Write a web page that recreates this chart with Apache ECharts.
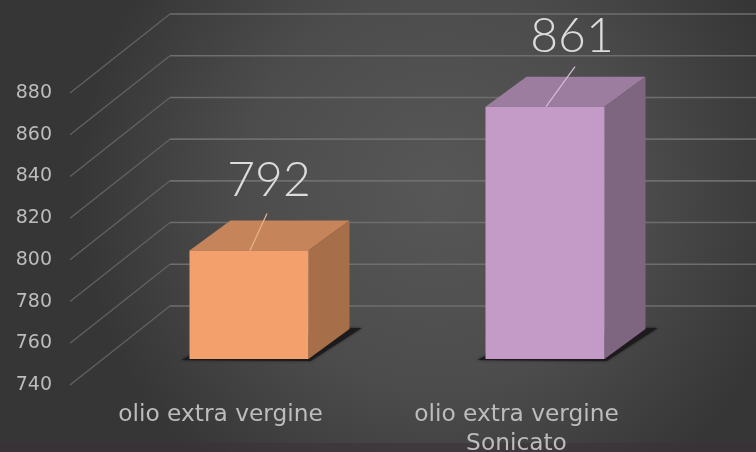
<!DOCTYPE html>
<html>
<head>
<meta charset="utf-8">
<style>html,body{margin:0;padding:0;background:#3a3a3a}#chart{width:756px;height:452px}</style>
<script src="https://cdn.jsdelivr.net/npm/echarts@6/dist/echarts.min.js"></script>
</head>
<body>
<div id="chart"></div>
<script>
// Ticks, categories and measured values
const categories = ['olio extra vergine', 'olio extra vergine\nSonicato'];
const values = [792, 861];
const yTicks = [740, 760, 780, 800, 820, 840, 860, 880];
const frontColors = ['#f4a06c', '#c39bc6'];
const topColors = ['#c6845a', '#9c7d9f'];
const sideColors = ['#a66f49', '#7f6680'];
const leaderColors = ['#e8b48c', '#d6bcd8'];

const yMin = 740, yMax = 880;

// Projection of the oblique 3D box
const wallDx = 100, wallDy = -79;    // front edge of the floor to the back wall
const barDx = 31, barDy = -26;       // front edge of the floor to the bar's front face
const depthDx = 41, depthDy = -30;   // thickness of a bar
const barHalf = 59.5;

// Leader line tip and value text, relative to the middle of each bar's top edge
const leaderTipDx = [18, 30];
const leaderTipDy = [-37, -40];
const labelDx = [20, 27];
const labelDy = -70;

function poly(points, fill, extra) {
  return Object.assign({ type: 'polygon', shape: { points }, style: { fill } }, extra || {});
}

function renderGridline(params, api) {
  const y = api.coord([categories[0], api.value(0)])[1];
  const x0 = params.coordSys.x;
  return {
    type: 'group',
    children: [
      { type: 'line', shape: { x1: x0, y1: y, x2: x0 + wallDx, y2: y + wallDy },
        style: { stroke: '#626262', lineWidth: 1.3 } },
      { type: 'line', shape: { x1: x0 + wallDx, y1: y + wallDy, x2: 780, y2: y + wallDy },
        style: { stroke: '#6e6e6e', lineWidth: 1.6 } }
    ]
  };
}

function renderBar(params, api) {
  const i = params.dataIndex;
  const value = api.value(1);
  const c = api.coord([categories[i], value]);
  const base = api.coord([categories[i], yMin]);
  const l = c[0] + barDx - barHalf, r = c[0] + barDx + barHalf;
  const t = c[1] + barDy, b = base[1] + barDy;
  const dx = depthDx, dy = depthDy;
  const midX = (l + r) / 2;
  return {
    type: 'group',
    children: [
      poly([[l - 8, b + 1], [r + 2, b + 2], [r + dx + 12, b + dy - 1], [r + dx, b + dy - 1], [l, b - 3]], '#1c1a1c',
        { style: { fill: '#1c1a1c', shadowBlur: 3, shadowColor: 'rgba(0,0,0,0.6)' } }),
      poly([[l, t], [r, t], [r + dx, t + dy], [l + dx, t + dy]], topColors[i]),
      poly([[r, t], [r + dx, t + dy], [r + dx, b + dy], [r, b]], sideColors[i]),
      poly([[l, t], [r, t], [r, b], [l, b]], frontColors[i]),
      { type: 'line', shape: { x1: midX + 1, y1: t, x2: midX + leaderTipDx[i], y2: t + leaderTipDy[i] },
        style: { stroke: leaderColors[i], lineWidth: 1.2 } },
      { type: 'text', x: midX + labelDx[i], y: t + labelDy,
        style: { text: String(value), fill: '#dcdcdc', font: '300 48px Lato, "Open Sans", sans-serif',
          align: 'center', verticalAlign: 'middle' } }
    ]
  };
}

const chart = echarts.init(document.getElementById('chart'), null, { renderer: 'canvas' });
chart.setOption({
  animation: false,
  backgroundColor: {
    type: 'radial', x: 0.58, y: 0.42, r: 0.8,
    colorStops: [
      { offset: 0, color: '#575757' },
      { offset: 0.55, color: '#4c4c4c' },
      { offset: 1, color: '#363636' }
    ]
  },
  grid: { left: 70, top: 93, width: 592, height: 292, outerBoundsMode: 'none' },
  xAxis: {
    type: 'category',
    data: categories,
    axisLine: { show: false },
    axisTick: { show: false },
    splitLine: { show: false },
    axisLabel: {
      color: '#bcbcbc', fontFamily: '"DejaVu Sans", sans-serif', fontSize: 23.3,
      margin: 15, lineHeight: 29, padding: [0, 0, 0, 5], interval: 0
    }
  },
  yAxis: {
    type: 'value',
    min: yMin,
    max: yMax,
    interval: 20,
    axisLine: { show: false },
    axisTick: { show: false },
    splitLine: { show: false },
    axisLabel: {
      color: '#bcbcbc', fontFamily: '"DejaVu Sans", sans-serif', fontSize: 19, margin: 18
    }
  },
  graphic: [{
    type: 'rect', silent: true, z: -1,
    shape: { x: 0, y: 443, width: 756, height: 9 },
    style: { fill: 'rgba(60,50,58,0.55)' }
  }],
  series: [
    {
      type: 'custom', name: 'grid', coordinateSystem: 'cartesian2d', clip: false, silent: true,
      encode: { y: 0 }, data: yTicks.map(v => [v]), renderItem: renderGridline, z: 1
    },
    {
      type: 'custom', name: 'bars', coordinateSystem: 'cartesian2d', clip: false, silent: true,
      encode: { x: 0, y: 1 }, data: values.map((v, i) => [i, v]), renderItem: renderBar, z: 2
    }
  ]
});
</script>
</body>
</html>
